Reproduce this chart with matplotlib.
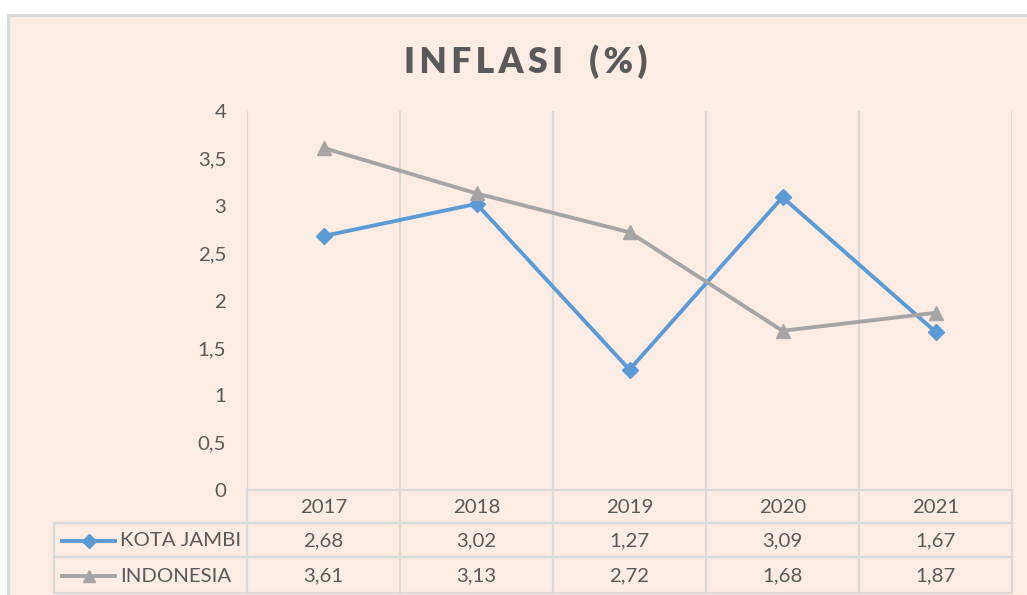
import matplotlib
matplotlib.use("Agg")
import matplotlib.pyplot as plt
from matplotlib.patches import Rectangle
from matplotlib.lines import Line2D

years = ["2017", "2018", "2019", "2020", "2021"]
kota_jambi = [2.68, 3.02, 1.27, 3.09, 1.67]
indonesia = [3.61, 3.13, 2.72, 1.68, 1.87]
series_names = ["KOTA JAMBI", "INDONESIA"]
y_ticks = [0, 0.5, 1, 1.5, 2, 2.5, 3, 3.5, 4]
title = "INFLASI  (%)"

FAM = ["Lato", "DejaVu Sans"]
plt.rcParams['font.family'] = FAM
TXT = "#595959"
GRID = "#D9D9D9"
BLUE = "#5B9BD5"
GRAY = "#A5A5A5"
BG = "#FDECE3"

W, H = 1027, 595
fig = plt.figure(figsize=(W / 100, H / 100), dpi=100)
fig.patch.set_facecolor("white")

def fx(px):
    return px / W

def fy(py):
    return 1 - py / H

# chart area background + border
fig.patches.append(Rectangle((fx(8), 0), 1 - fx(8) + 0.01, fy(15), transform=fig.transFigure,
                             facecolor=BG, edgecolor="none", zorder=-5))
fig.lines.append(Line2D([fx(8), fx(8)], [0, fy(15)], transform=fig.transFigure, color=GRID, lw=2.2, zorder=-4))
fig.lines.append(Line2D([fx(8), 1], [fy(15), fy(15)], transform=fig.transFigure, color=GRID, lw=2.2, zorder=-4))

# plot area
L, R, T, B = 247, 1012, 111, 490
ax = fig.add_axes([fx(L), fy(B), fx(R) - fx(L), fy(T) - fy(B)])
ax.set_zorder(5)
ax.set_facecolor("none")
n = len(years)
x = list(range(n))
ax.set_xlim(-0.5, n - 0.5)
ax.set_ylim(0, 4)
for s in ax.spines.values():
    s.set_visible(False)
ax.set_xticks([])
ax.set_yticks(y_ticks)
fs = 14.7
ax.set_yticklabels([f"{v:g}".replace(".", ",") for v in y_ticks], fontsize=fs, color=TXT)
ax.tick_params(axis="y", length=0, pad=15)
for b in [i - 0.5 for i in range(n + 1)]:
    ax.axvline(b, color=GRID, lw=1.6, zorder=1)

ax.plot(x, kota_jambi, color=BLUE, lw=2.8, marker="D", markersize=8.5, zorder=3)
ax.plot(x, indonesia, color=GRAY, lw=2.8, marker="^", markersize=10, zorder=3)

# title
sp = "\u2009"
fig.text(0.5115, fy(62), sp.join(list("INFLASI")) + "\u2009" * 6 + sp.join(list("(%)")),
         ha="center", va="center", fontsize=25.5, fontweight="heavy", color=TXT, zorder=6)

# data table
TL = 54
legw = (L - TL) / ((R - L) / n)
tax = fig.add_axes([fx(TL), fy(593), fx(R) - fx(TL), fy(B) - fy(593)])
tax.set_zorder(5)
tax.set_facecolor("none")
tax.axis("off")
tax.set_xlim(-0.5 - legw, n - 0.5)
rows = [490, 523, 557, 593]
tax.set_ylim(593, 490)
lkw = dict(color=GRID, lw=1.6, clip_on=False)
tax.plot([-0.5, n - 0.5], [rows[0], rows[0]], **lkw)
for r in rows[1:]:
    tax.plot([-0.5 - legw, n - 0.5], [r, r], **lkw)
for b in [i - 0.5 for i in range(n + 1)]:
    tax.plot([b, b], [rows[0], rows[-1]], **lkw)
tax.plot([-0.5 - legw] * 2, [rows[1], rows[-1]], **lkw)

for i, yr in enumerate(years):
    tax.text(i, (rows[0] + rows[1]) / 2 + 1, yr, ha="center", va="center", fontsize=fs, color=TXT)
for j, (vals, col, mk, ms) in enumerate([(kota_jambi, BLUE, "D", 7), (indonesia, GRAY, "^", 9)]):
    yc = (rows[j + 1] + rows[j + 2]) / 2 + 1
    for i, v in enumerate(vals):
        tax.text(i, yc, f"{v:.2f}".replace(".", ","), ha="center", va="center", fontsize=fs, color=TXT)
    x0 = -0.5 - legw + 8 / 153
    x1 = x0 + 53 / 153
    tax.plot([x0, x1], [yc, yc], color=col, lw=2.8, clip_on=False)
    tax.plot([(x0 + x1) / 2], [yc], color=col, marker=mk, markersize=ms, clip_on=False)
    tax.text(x1 + 5 / 153, yc, series_names[j], ha="left", va="center", fontsize=fs, color=TXT)

fig.savefig("out.png", dpi=100, facecolor="white")
